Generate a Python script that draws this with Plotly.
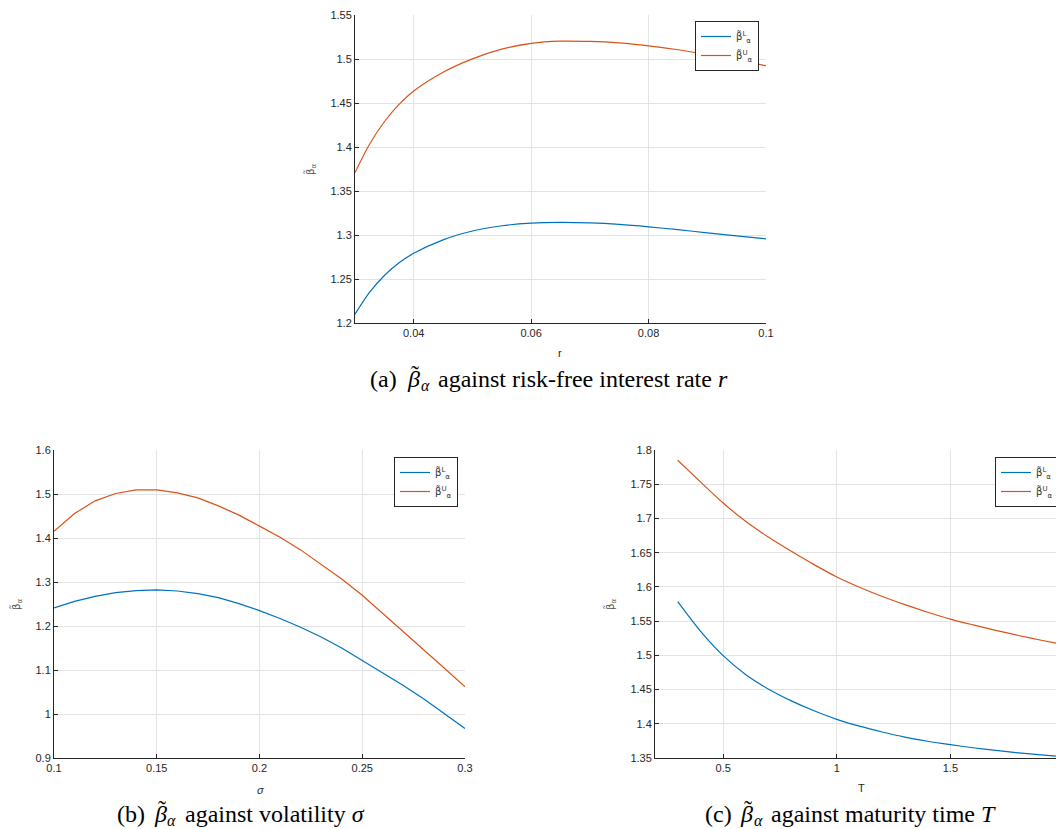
import plotly.graph_objects as go

# ---------------- data ----------------
# (a) beta vs risk-free rate r
r_vals = [0.030, 0.0325, 0.035, 0.0375, 0.040, 0.045, 0.050, 0.055, 0.060, 0.065, 0.070,
          0.075, 0.080, 0.085, 0.090, 0.095, 0.100]
a_lower = [1.210, 1.235, 1.254, 1.2684, 1.2792, 1.2945, 1.3045, 1.3105, 1.3135, 1.3143, 1.3137,
           1.312, 1.3093, 1.306, 1.3025, 1.299, 1.2956]
a_upper = [1.371, 1.4034, 1.4287, 1.4484, 1.4636, 1.485, 1.5002, 1.5112, 1.5178, 1.5203, 1.5200,
           1.5183, 1.5150, 1.5105, 1.5050, 1.4990, 1.4924]

# (b) beta vs volatility sigma
sigma_vals = [0.10, 0.11, 0.12, 0.13, 0.14, 0.15, 0.16, 0.17, 0.18, 0.19, 0.20,
              0.21, 0.22, 0.23, 0.24, 0.25, 0.26, 0.27, 0.28, 0.29, 0.30]
b_lower = [1.241, 1.256, 1.2675, 1.2758, 1.2805, 1.282, 1.2795, 1.2735, 1.2645,
           1.251, 1.235, 1.217, 1.197, 1.175, 1.150, 1.122, 1.094, 1.065, 1.034,
           1.001, 0.967]
b_upper = [1.4152, 1.4555, 1.4844, 1.5011, 1.5095, 1.5095, 1.5027, 1.4913, 1.473,
           1.452, 1.427, 1.4015, 1.373, 1.341, 1.307, 1.270, 1.229, 1.188, 1.146,
           1.104, 1.062]

# (c) beta vs maturity time T
T_vals = [0.3, 0.4, 0.5, 0.6, 0.7, 0.8, 0.9, 1.0, 1.1, 1.2, 1.3, 1.4, 1.5,
          1.6, 1.7, 1.8, 1.9, 2.0]
c_lower = [1.5785, 1.5355, 1.4995, 1.4715, 1.4505, 1.4335, 1.419, 1.4065, 1.3965,
           1.388, 1.3805, 1.3745, 1.3695, 1.365, 1.361, 1.3575, 1.3545, 1.352]
c_upper = [1.785, 1.7535, 1.7225, 1.6955, 1.6725, 1.652, 1.6325, 1.6145, 1.5995,
           1.586, 1.574, 1.563, 1.553, 1.5445, 1.5365, 1.529, 1.522, 1.5155]

# tick labels
a_xticks = [0.04, 0.06, 0.08, 0.1]
a_xtext = ["0.04", "0.06", "0.08", "0.1"]
a_yticks = [1.2, 1.25, 1.3, 1.35, 1.4, 1.45, 1.5, 1.55]
a_ytext = ["1.2", "1.25", "1.3", "1.35", "1.4", "1.45", "1.5", "1.55"]
b_xticks = [0.1, 0.15, 0.2, 0.25, 0.3]
b_xtext = ["0.1", "0.15", "0.2", "0.25", "0.3"]
b_yticks = [0.9, 1.0, 1.1, 1.2, 1.3, 1.4, 1.5, 1.6]
b_ytext = ["0.9", "1", "1.1", "1.2", "1.3", "1.4", "1.5", "1.6"]
c_xticks = [0.5, 1.0, 1.5, 2.0]
c_xtext = ["0.5", "1", "1.5", "2"]
c_yticks = [1.35, 1.4, 1.45, 1.5, 1.55, 1.6, 1.65, 1.7, 1.75, 1.8]
c_ytext = ["1.35", "1.4", "1.45", "1.5", "1.55", "1.6", "1.65", "1.7", "1.75", "1.8"]

BETA = "β̃"   # beta with combining tilde
series_names = [BETA + "<sup>L</sup><sub>α</sub>", BETA + "<sup>U</sup><sub>α</sub>"]
caption_tags = ["(a)", "(b)", "(c)"]
caption_rest = ["against risk-free interest rate <i>r</i>",
                "against volatility <i>σ</i>",
                "against maturity time <i>T</i>"]
x_titles = ["r", "<i>σ</i>", "T"]

# ---------------- style ----------------
BLUE = "#0072BD"
ORANGE = "#D95319"
AX = "#262626"
GRID = "#e3e3e3"
OFF = 8                      # default body margin of the html page
W, H = 1064 - OFF, 829 - OFF
SERIF = "Liberation Serif, Times New Roman, serif"
SANS = "Liberation Sans, Arial, sans-serif"
MARKFONT = "DejaVu Sans"     # renders the combining tilde over beta


def px_x(p):
    return (p - OFF) / W


def px_y(p):
    return 1 - (p - OFF) / H


fig = go.Figure()

panels = [
    dict(x=r_vals, lo=a_lower, up=a_upper, xa="x", ya="y", leg="legend", shape="spline"),
    dict(x=sigma_vals, lo=b_lower, up=b_upper, xa="x2", ya="y2", leg="legend2", shape="linear"),
    dict(x=T_vals, lo=c_lower, up=c_upper, xa="x3", ya="y3", leg="legend3", shape="spline"),
]
for p in panels:
    fig.add_trace(go.Scatter(x=p["x"], y=p["lo"], mode="lines", name=series_names[0],
                             line=dict(color=BLUE, width=1.2, shape=p["shape"], smoothing=0.8),
                             xaxis=p["xa"], yaxis=p["ya"], legend=p["leg"]))
    fig.add_trace(go.Scatter(x=p["x"], y=p["up"], mode="lines", name=series_names[1],
                             line=dict(color=ORANGE, width=1.2, shape=p["shape"], smoothing=0.8),
                             xaxis=p["xa"], yaxis=p["ya"], legend=p["leg"]))

common = dict(showline=True, linecolor=AX, linewidth=1, mirror=False,
              ticks="inside", ticklen=4, tickcolor=AX, tickwidth=1,
              showgrid=True, gridcolor=GRID, gridwidth=1, zeroline=False,
              tickfont=dict(family=SANS, size=11, color=AX),
              fixedrange=True, automargin=False)

# panel pixel boxes in the reference: (left, right, top, bottom)
boxes = [(355, 766, 15, 323), (54, 465, 450, 758), (655, 1064, 450, 758)]
ranges = [([0.03, 0.1], [1.2, 1.55]), ([0.1, 0.3], [0.9, 1.6]), ([0.2, 2.0], [1.35, 1.8])]
ticks = [(a_xticks, a_xtext, a_yticks, a_ytext),
         (b_xticks, b_xtext, b_yticks, b_ytext),
         (c_xticks, c_xtext, c_yticks, c_ytext)]

layout = dict(width=W, height=H, margin=dict(l=0, r=0, t=0, b=0, autoexpand=False),
              paper_bgcolor="white", plot_bgcolor="white", showlegend=True)
suffix = ["", "2", "3"]
for i, (bx, rg, tk) in enumerate(zip(boxes, ranges, ticks)):
    l, rr, t, b = bx
    xdom = [max(0.0, px_x(l)), min(1.0, px_x(rr))]
    ydom = [px_y(b), px_y(t)]
    layout["xaxis" + suffix[i]] = dict(common, domain=xdom, range=rg[0], tickvals=tk[0],
                                       ticktext=tk[1], anchor="y" + suffix[i])
    layout["yaxis" + suffix[i]] = dict(common, domain=ydom, range=rg[1], tickvals=tk[2],
                                       ticktext=tk[3], anchor="x" + suffix[i])

legend_style = dict(bgcolor="white", bordercolor=AX, borderwidth=1,
                    font=dict(family=MARKFONT, size=10, color="#333333"),
                    itemwidth=30, tracegroupgap=0, xanchor="left", yanchor="top",
                    itemclick=False, itemdoubleclick=False)
leg_pos = [(695, 21), (394, 457), (995, 457)]
layout["legend"] = dict(legend_style, x=px_x(leg_pos[0][0]), y=px_y(leg_pos[0][1]))
layout["legend2"] = dict(legend_style, x=px_x(leg_pos[1][0]), y=px_y(leg_pos[1][1]))
layout["legend3"] = dict(legend_style, x=px_x(leg_pos[2][0]), y=px_y(leg_pos[2][1]))

fig.update_layout(**layout)

annotations = []


def ann(x, y, text, size, family=SERIF, color="black", xanchor="center", angle=0):
    annotations.append(dict(x=px_x(x), y=px_y(y), xref="paper", yref="paper", text=text,
                            showarrow=False, xanchor=xanchor, yanchor="middle",
                            textangle=angle, borderpad=0,
                            font=dict(family=family, size=size, color=color)))


# y-axis titles
for (xp, yp) in [(310, 170), (16, 605), (610, 605)]:
    ann(xp, yp, BETA + "<sub>α</sub>", 10, family=MARKFONT, color="#555555", angle=-90)

# x-axis titles
for txt, (xp, yp) in zip(x_titles, [(560, 353), (260, 790), (861, 788)]):
    ann(xp, yp, txt, 11, family=SANS, color=AX)

# captions, built from pieces: tag, beta with tilde and subscript alpha, rest
cap_geo = [  # tag right edge, beta centre, alpha centre, rest left edge, y centre
    (398, 413, 425, 437, 379),
    (146, 160, 171, 184, 814),
    (733, 746, 758, 770, 814),
]
for tag, rest, (tx, bx, ax_, rx, cy) in zip(caption_tags, caption_rest, cap_geo):
    ann(tx, cy, tag, 24, xanchor="right")
    ann(bx, cy, "<i>β</i>", 24)
    ann(bx + 2, cy - 5, "˜", 24)
    ann(ax_, cy + 6, "<i>α</i>", 16)
    ann(rx, cy, rest, 24, xanchor="left")

fig.update_layout(annotations=annotations)

fig.write_html("out.html")
